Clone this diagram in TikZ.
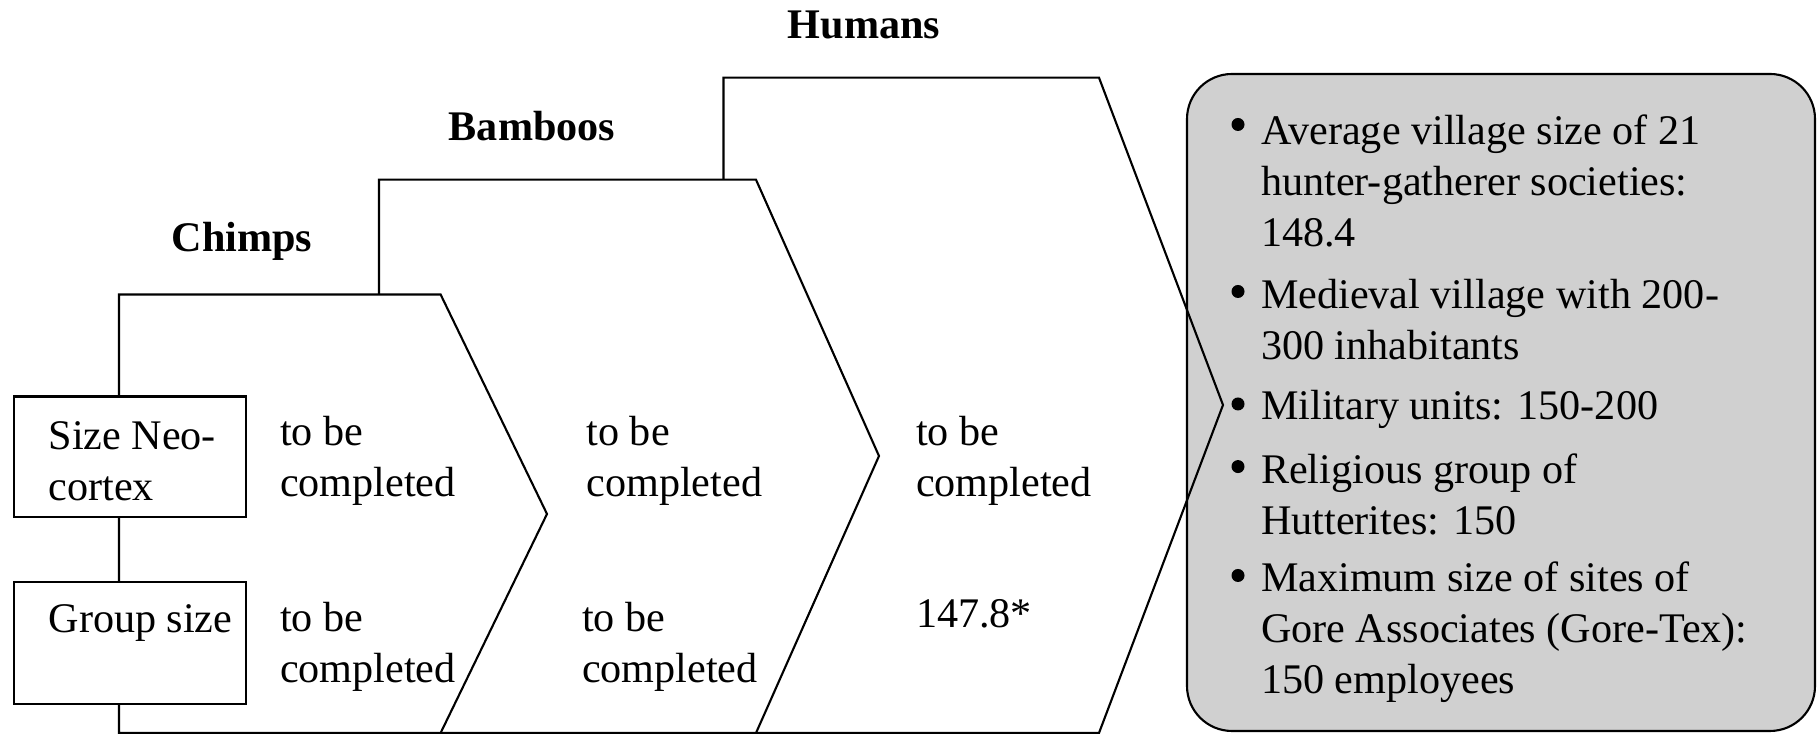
\documentclass[tikz,border=0pt]{standalone}
\usepackage{fontspec}
\setmainfont{Liberation Serif}
\definecolor{factgray}{RGB}{208,208,208}
\tikzset{
	cell/.style={anchor=west, align=left, inner sep=0pt, font=\fontsize{12}{14.5}\selectfont},
	header/.style={inner sep=0pt, font=\fontsize{12}{14.5}\selectfont\bfseries},
	dot/.style={circle, fill=black, inner sep=0pt, minimum size=0.13cm}
}

\begin{document}
\begin{tikzpicture}[line width=0.6pt]
			%%%%% START %%%%%
			\useasboundingbox (0,0) rectangle (18.18,7.34);
			
			\draw[fill=factgray, rounded corners=0.45cm] (11.87,0.03) rectangle (18.15,6.60);
			
			\draw (7.235,0.01) -- (7.235,6.563) -- (10.99,6.563) -- (12.23,3.29) -- (10.99,0.01) -- cycle;
			\draw[fill=white] (3.79,0.01) -- (3.79,5.543) -- (7.56,5.543) -- (8.79,2.78) -- (7.56,0.01) -- cycle;
			\draw[fill=white] (1.19,0.01) -- (1.19,4.395) -- (4.406,4.395) -- (5.47,2.2) -- (4.406,0.01) -- cycle;
			
			\node[header] (humans) at (8.64,7.09) {Humans};
			\node[header] (bamboos) at (5.32,6.08) {Bamboos};
			\node[header] (chimps) at (2.42,4.925) {Chimps};
			
			\draw[fill=white] (0.14,2.17) rectangle (2.458,3.375);
			\draw[fill=white] (0.14,0.302) rectangle (2.458,1.52);
			\node[cell] (neo) at (0.475,2.73) {Size Neo-\\cortex};
			\node[cell] (grp) at (0.475,1.11) {Group size};
			
			\node[cell] (chimpsneo) at (2.79,2.73) {to be\\completed};
			\node[cell] (chimpsgrp) at (2.79,0.875) {to be\\completed};
			\node[cell] (bamboosneo) at (5.855,2.73) {to be\\completed};
			\node[cell] (bamboosgrp) at (5.81,0.875) {to be\\completed};
			\node[cell] (humansneo) at (9.15,2.73) {to be\\completed};
			\node[cell] (humansgrp) at (9.15,1.20) {147.8*};
			
			\node[dot] (dot1) at (12.38,6.095) {};
			\node[cell] (fact1) at (12.60,5.53) {Average village size of 21\\hunter-gatherer societies:\\148.4};
			\node[dot] (dot2) at (12.38,4.425) {};
			\node[cell] (fact2) at (12.60,4.14) {Medieval village with 200-\\300 inhabitants};
			\node[dot] (dot3) at (12.38,3.30) {};
			\node[cell] (fact3) at (12.60,3.25) {Military units: 150-200};
			\node[dot] (dot4) at (12.38,2.674) {};
			\node[cell] (fact4) at (12.60,2.40) {Religious group of\\Hutterites: 150};
			\node[dot] (dot5) at (12.38,1.585) {};
			\node[cell] (fact5) at (12.60,1.015) {Maximum size of sites of\\Gore Associates (Gore-Tex):\\150 employees};
			%%%%% END %%%%%
\end{tikzpicture}
\end{document}
